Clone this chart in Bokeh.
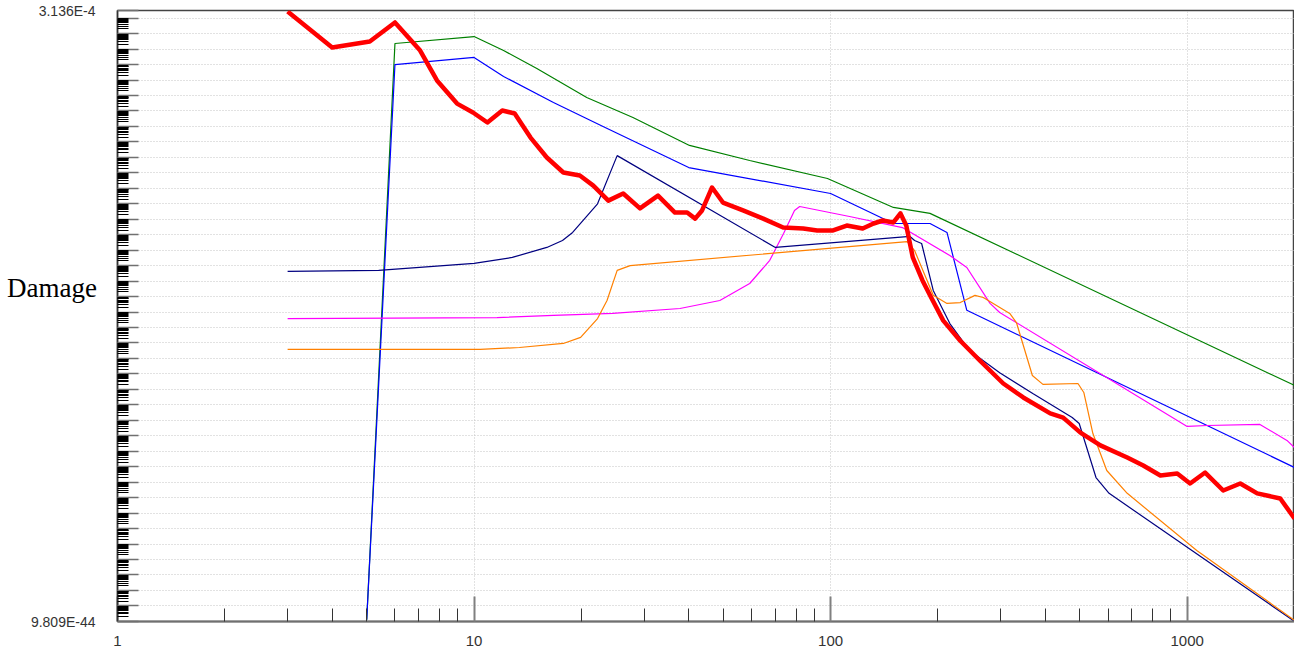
from bokeh.plotting import figure
from bokeh.models import FixedTicker, CustomJSTickFormatter, Range1d, Label
from bokeh.embed import file_html
from bokeh.resources import INLINE

# ---- data ----
red_x = [3.0, 4.0, 5.1, 6.0, 7.06, 7.87, 8.96, 9.93, 10.9, 12.0, 13.0, 14.4, 16.0, 17.8, 19.8,
         21.6, 23.8, 26.2, 29.2, 32.8, 36.6, 39.6, 41.7, 43.6, 46.5, 49.9, 56.8, 64.7, 73.6, 83.8,
         91.7, 101.6, 111, 123, 132, 140, 150, 157, 163, 170, 181, 190, 207, 231, 262,
         305, 347, 413, 449, 502, 571, 679, 753, 841, 938, 1019, 1123, 1262, 1409, 1572, 1824, 2000]
red_y = [2.7e-4, 1.27e-6, 3.1e-6, 5.3e-5, 8.1e-7, 9.4e-9, 3.0e-10, 8.0e-11, 1.8e-11, 1.07e-10,
         6.9e-11, 1.9e-12, 9.8e-14, 1.05e-14, 6.7e-15, 1.5e-15, 1.6e-16, 4.6e-16, 5.0e-17, 3.4e-16,
         2.7e-17, 2.7e-17, 1.1e-17, 3.7e-17, 1.13e-15, 1.2e-16, 3.7e-17, 1.1e-17, 2.9e-18, 2.5e-18,
         1.9e-18, 1.9e-18, 3.9e-18, 2.5e-18, 5.3e-18, 8.3e-18, 6.2e-18, 2.4e-17, 3.9e-18, 3.4e-20,
         1.1e-21, 1.2e-22, 2.8e-24, 1.4e-25, 7.4e-27, 2.4e-28, 3.0e-29, 2.8e-30, 1.5e-30, 1.6e-31,
         2.4e-32, 3.9e-33, 1.2e-33, 2.7e-34, 3.6e-34, 8.2e-35, 4.2e-34, 2.9e-35, 8.2e-35, 1.9e-35,
         8.8e-36, 4.5e-37]

green_x = [5.0, 6.0, 10.0, 12.1, 15.0, 20.7, 27.9, 40.2, 59.3, 98, 150, 190, 2000]
green_y = [1.3e-43, 2.3e-6, 6.5e-6, 8.1e-7, 5.6e-8, 7.4e-10, 3.8e-11, 5.9e-13, 6.3e-14, 4.3e-15,
           5.8e-17, 2.4e-17, 1.8e-28]

blue_x = [5.0, 6.0, 10.0, 12.1, 16.7, 23.0, 40, 100, 150, 190, 212, 241, 2000]
blue_y = [1.3e-43, 1.0e-7, 2.9e-7, 1.7e-8, 3.5e-10, 9.9e-12, 2.2e-14, 4.6e-16, 5.3e-18, 5.3e-18,
          1.4e-18, 1.3e-23, 8.9e-34]

navy_x = [3.0, 5.4, 10.0, 12.8, 16.0, 17.7, 18.9, 22.2, 25.2, 70, 167, 172, 180, 194, 216, 245,
          298, 369, 476, 498, 555, 604, 2000]
navy_y = [4.2e-21, 4.9e-21, 1.4e-20, 3.4e-20, 1.5e-19, 4.2e-19, 1.4e-18, 1.0e-16, 1.3e-13, 1.5e-19,
          7.7e-19, 4.2e-19, 2.7e-19, 2.5e-22, 1.8e-24, 3.3e-26, 1.2e-27, 5.4e-29, 1.5e-30, 6.2e-31,
          2.0e-34, 1.9e-35, 1.0e-43]

magenta_x = [3.0, 11.6, 16.7, 24.5, 37.8, 48.9, 59.3, 67.5, 73.8, 79.2, 81.9, 113, 159, 216, 241,
             280, 298, 1000, 1138, 1600, 1905, 2000]
magenta_y = [3.8e-24, 4.4e-24, 6.0e-24, 8.1e-24, 1.7e-23, 5.6e-23, 7.0e-22, 2.2e-20, 1.2e-18,
             3.7e-17, 6.7e-17, 1.5e-17, 2.9e-18, 4.5e-20, 7.6e-21, 3.6e-23, 9.4e-24, 4.0e-31,
             4.6e-31, 5.4e-31, 5.0e-32, 1.7e-32]

orange_x = [3.0, 10.4, 13.4, 17.8, 19.9, 22.2, 23.6, 25.2, 27.4, 164, 172, 194, 212, 231, 254, 268,
            318, 332, 368, 394, 494, 513, 544, 595, 679, 1064, 2000]
orange_y = [3.8e-26, 3.8e-26, 5.1e-26, 9.3e-26, 2.3e-25, 3.8e-24, 5.6e-23, 4.9e-21, 1.0e-20,
            3.6e-19, 9.5e-20, 1.2e-22, 3.6e-23, 4.1e-23, 1.2e-22, 8.7e-23, 8.1e-24, 2.1e-24,
            7.9e-28, 2.1e-28, 2.4e-28, 6.3e-29, 1.4e-31, 5.7e-34, 1.9e-35, 3.8e-39, 1.15e-43]

x_major = [1, 10, 100, 1000]
x_labels = ["1", "10", "100", "1000"]
y_end_values = [9.809e-44, 3.136e-4]
y_end_labels = ["9.809E-44", "3.136E-4"]
y_label = "Damage"

# ---- figure ----
p = figure(width=1294, height=653, x_axis_type="log", y_axis_type="log",
           x_range=Range1d(1, 2000), y_range=Range1d(y_end_values[0], y_end_values[1]),
           output_backend="svg", toolbar_location=None,
           min_border_left=117, min_border_right=0, min_border_top=10, min_border_bottom=32)
p.background_fill_color = "white"
p.border_fill_color = "white"
p.outline_line_color = "#444444"
p.outline_line_width = 1.5

x_minor = [m * d for d in (1, 10, 100, 1000) for m in range(2, 10) if m * d <= 2000]
y_decades = [10.0 ** k for k in range(-43, -3)]
y_minor = [m * 10.0 ** k for k in range(-44, -4) for m in range(2, 10)
           if y_end_values[0] < m * 10.0 ** k < y_end_values[1]]

xa = p.xaxis[0]
xa.ticker = FixedTicker(ticks=x_major, minor_ticks=x_minor)
xa.formatter = CustomJSTickFormatter(args=dict(vals=x_major, labs=x_labels), code="""
    for (let i = 0; i < vals.length; i++) { if (Math.abs(tick - vals[i]) < 1e-6 * vals[i]) return labs[i]; }
    return "";
""")
xa.major_tick_in = 25
xa.major_tick_out = 0
xa.minor_tick_in = 13
xa.minor_tick_out = 0
xa.major_tick_line_color = "#808080"
xa.major_tick_line_width = 2
xa.minor_tick_line_color = "#333333"
xa.minor_tick_line_width = 1
xa.axis_line_color = "#707070"
xa.axis_line_width = 2
xa.major_label_standoff = 14
xa.major_label_text_font = "Liberation Sans"
xa.major_label_text_font_size = "15px"
xa.major_label_text_color = "#333333"

ya = p.yaxis[0]
ya.ticker = FixedTicker(ticks=[y_end_values[0]] + y_decades + [y_end_values[1]], minor_ticks=y_minor)
ya.formatter = CustomJSTickFormatter(args=dict(vals=y_end_values, labs=y_end_labels), code="""
    const lt = Math.log10(tick);
    for (let i = 0; i < vals.length; i++) { if (Math.abs(lt - Math.log10(vals[i])) < 1e-4) return labs[i]; }
    return "";
""")
ya.major_tick_in = 21
ya.major_tick_out = 0
ya.minor_tick_in = 11
ya.minor_tick_out = 0
ya.major_tick_line_color = "#707070"
ya.major_tick_line_width = 1.5
ya.minor_tick_line_color = "#000000"
ya.minor_tick_line_width = 1
ya.axis_line_color = "#333333"
ya.axis_line_width = 1.5
ya.major_label_standoff = 22
ya.major_label_text_font = "Liberation Sans"
ya.major_label_text_font_size = "14px"
ya.major_label_text_color = "#333333"

use_axis_label = True
try:
    ya.axis_label_orientation = "horizontal"
except Exception:
    use_axis_label = False

if use_axis_label:
    ya.axis_label = y_label + "\n"
    ya.axis_label_standoff = -69
    ya.axis_label_text_font = "Liberation Serif"
    ya.axis_label_text_font_size = "27px"
    ya.axis_label_text_font_style = "normal"
    ya.axis_label_text_color = "#000000"
    ya.axis_label_text_line_height = 1.85
else:
    p.add_layout(Label(x=97, y=2.1e-22, x_units="screen", y_units="data", text=y_label,
                       text_align="right", text_baseline="middle", text_font="Liberation Serif",
                       text_font_size="27px", text_color="#000000"))

p.xgrid.ticker = FixedTicker(ticks=[10, 100, 1000])
p.ygrid.ticker = FixedTicker(ticks=y_decades)
for g in (p.xgrid[0], p.ygrid[0]):
    g.grid_line_color = "#c4c4c4"
    g.grid_line_dash = "1 2"
    g.grid_line_width = 1

p.line(green_x, green_y, line_color="#008000", line_width=1.2)
p.line(blue_x, blue_y, line_color="#0000ff", line_width=1.2)
p.line(magenta_x, magenta_y, line_color="#ff00ff", line_width=1.2)
p.line(navy_x, navy_y, line_color="#000080", line_width=1.2)
p.line(orange_x, orange_y, line_color="#ff8000", line_width=1.2)
p.line(red_x, red_y, line_color="#ff0000", line_width=4.5, line_join="round")

open("out.html", "w").write(file_html(p, INLINE))
